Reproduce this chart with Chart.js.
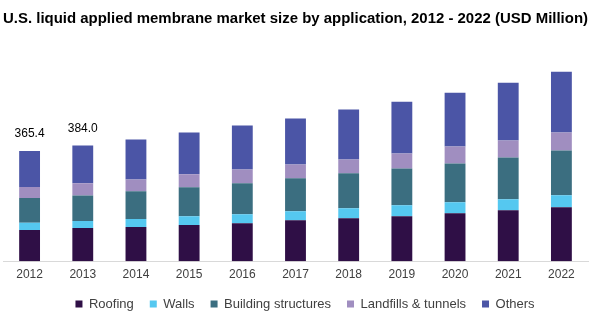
<!DOCTYPE html>
<html>
<head>
<meta charset="utf-8">
<script src="https://cdn.jsdelivr.net/npm/chart.js@4"></script>
<style>
    html, body { margin: 0; padding: 0; background: #ffffff; }
    #wrap { width: 598px; height: 322px; position: relative; }
</style>
</head>
<body>
<div id="wrap"><canvas id="grafico"></canvas></div>
<script>
// Años y valores por aplicación (USD millones)
const anios = ["2012", "2013", "2014", "2015", "2016", "2017", "2018", "2019", "2020", "2021", "2022"];
const roofing = [103.7, 110.6, 114.0, 120.0, 126.4, 136.3, 143.0, 149.6, 159.5, 169.4, 179.3];
const walls = [24.2, 23.0, 26.4, 29.7, 29.7, 29.7, 33.0, 36.3, 36.3, 36.3, 39.6];
const buildingStructures = [81.8, 84.6, 91.4, 95.7, 102.3, 108.9, 115.5, 122.0, 128.7, 138.6, 148.5];
const landfills = [36.4, 40.5, 39.6, 42.9, 46.2, 46.2, 46.2, 49.5, 56.1, 56.1, 59.4];
const others = [119.3, 125.3, 132.0, 138.6, 145.2, 151.8, 165.0, 171.6, 178.2, 191.4, 201.3];

// Solo se rotulan los dos primeros años
const aniosRotulados = [0, 1];

const fuente = "'Liberation Sans', Arial, sans-serif";

const series = [
    { label: "Roofing", data: roofing, color: "#2f0f46" },
    { label: "Walls", data: walls, color: "#55c8f0" },
    { label: "Building structures", data: buildingStructures, color: "#3b6e80" },
    { label: "Landfills & tunnels", data: landfills, color: "#a08ec0" },
    { label: "Others", data: others, color: "#4b55a6" }
];

// Totales encima de las barras
const totalesPlugin = {
    id: "totales",
    afterLayout(chart) {
        // la leyenda va un poco corrida a la derecha
        chart.legend.left += 9.5;
        chart.legend.right += 9.5;
    },
    afterDatasetsDraw(chart) {
        const ctx = chart.ctx;
        const ultimo = chart.getDatasetMeta(chart.data.datasets.length - 1);
        ctx.save();
        ctx.font = "12px " + fuente;
        ctx.fillStyle = "#000000";
        ctx.textAlign = "center";
        ctx.textBaseline = "middle";
        aniosRotulados.forEach(i => {
            const total = series.reduce((s, serie) => s + serie.data[i], 0);
            const barra = ultimo.data[i];
            ctx.fillText(total.toFixed(1), barra.x, barra.y - 17);
        });
        ctx.restore();
    }
};

new Chart(document.getElementById("grafico"), {
    type: "bar",
    data: {
        labels: anios,
        datasets: series.map(s => ({
            label: s.label,
            data: s.data,
            backgroundColor: s.color,
            borderWidth: 0,
            barPercentage: 0.49,
            categoryPercentage: 0.8
        }))
    },
    options: {
        responsive: true,
        maintainAspectRatio: false,
        animation: false,
        layout: { padding: { left: 3, right: 10, top: 0, bottom: 1.5 } },
        scales: {
            x: {
                stacked: true,
                grid: { display: false, drawTicks: false },
                border: { display: true, color: "#d9d9d9", width: 1 },
                ticks: { color: "#404040", font: { size: 12, family: fuente }, padding: 6 },
                // alto fijo del eje para que las barras bajen hasta la leyenda
                afterFit(scale) {
                    scale.height = 20.2;
                }
            },
            y: {
                stacked: true,
                display: false,
                min: 0,
                max: 750
            }
        },
        plugins: {
            title: {
                display: true,
                text: "U.S. liquid applied membrane market size by application, 2012 - 2022 (USD Million)",
                color: "#000000",
                font: { size: 15, weight: "bold", family: fuente },
                padding: { top: 10, bottom: 7 }
            },
            legend: {
                position: "bottom",
                labels: {
                    boxWidth: 7,
                    boxHeight: 7,
                    padding: 16,
                    color: "#404040",
                    font: { size: 13, family: fuente }
                }
            },
            tooltip: { enabled: false }
        }
    },
    plugins: [totalesPlugin]
});
</script>
</body>
</html>
